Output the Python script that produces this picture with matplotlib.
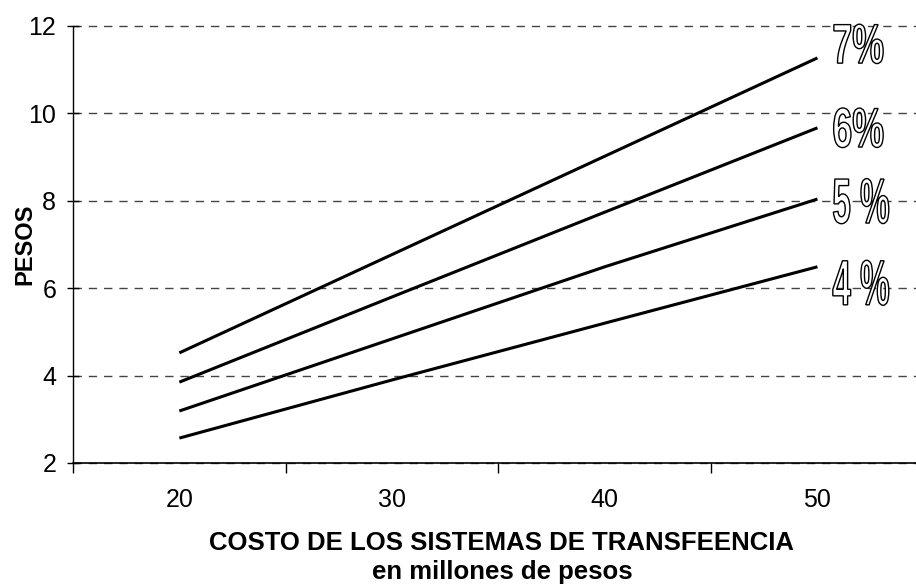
#!/usr/bin/env python3
# -*- coding: utf-8 -*-
"""
Costo de los sistemas de transferencia vs pesos, para tasas de 4 a 7 %
"""

import matplotlib
matplotlib.use("Agg")
import matplotlib.pyplot as plt
from matplotlib.textpath import TextPath
from matplotlib.font_manager import FontProperties
from matplotlib.patches import PathPatch
from matplotlib.transforms import Affine2D, IdentityTransform

#------- datos -------
costos = ["20", "30", "40", "50"]   # millones de pesos (eje categorico)

pesos_7 = [4.52, 6.77, 9.02, 11.27]
pesos_6 = [3.85, 5.80, 7.74, 9.67]
pesos_5 = [3.19, 4.84, 6.49, 8.04]
pesos_4 = [2.57, 3.90, 5.20, 6.49]

etiquetas = ["7%", "6%", "5 %", "4 %"]
base_etiquetas = [11.15, 9.23, 7.49, 5.62]   # linea base de cada etiqueta
yticks = [2, 4, 6, 8, 10, 12]
#----------------------------------------

plt.rcParams['font.family'] = ['Liberation Sans', 'DejaVu Sans']

fig = plt.figure(figsize=(9.16, 5.84), dpi=100)
ax = fig.add_axes([73/916, (584-463)/584, 843/916, (463-26)/584])

x = list(range(len(costos)))
for serie in [pesos_7, pesos_6, pesos_5, pesos_4]:
    ax.plot(x, serie, color="black", lw=2.2, solid_capstyle="butt", zorder=3)

# Limites
ax.set_xlim(-0.5, -0.5 + 843/212.7)
ax.set_ylim(2, 12)

# Etiquetas huecas y estrechas (contorno negro, relleno blanco)
prop = FontProperties(family="Liberation Sans", weight="bold")
for i, (txt, yb) in enumerate(zip(etiquetas, base_etiquetas)):
    if i < 2:
        size, sx = 56, 0.64
    else:
        size, sx = 64, 0.52
    px, py = ax.transData.transform((3.07, yb))
    tp = TextPath((0, 0), txt, size=size, prop=prop)
    trans = Affine2D().scale(sx, 1.0).translate(px, py) + IdentityTransform()
    patch = PathPatch(tp, facecolor="white", edgecolor="black", lw=1.0,
                      transform=trans, zorder=4, clip_on=False)
    fig.add_artist(patch)

# Ticks x : marcas entre categorias, etiquetas centradas
ax.set_xticks([-0.5, 0.5, 1.5, 2.5])
ax.set_xticklabels([])
ax.set_xticks(x, minor=True)
ax.set_xticklabels(costos, minor=True, fontsize=18)
ax.tick_params(axis="x", which="major", direction="out", length=7, width=1)
ax.tick_params(axis="x", which="minor", length=0, pad=18)

ax.set_yticks(yticks)
ax.set_yticklabels([str(v) for v in yticks], fontsize=18)
ax.tick_params(axis="y", direction="inout", length=8, width=1, pad=8)

# Rejilla discontinua
ax.yaxis.grid(True, linestyle=(0, (6, 5)), color="#444444", lw=1)
for l in ax.get_ygridlines():
    l.set_clip_on(False)
ax.set_axisbelow(True)

ax.spines["top"].set_visible(False)
ax.spines["right"].set_visible(False)
ax.spines["left"].set_linewidth(1)
ax.spines["bottom"].set_linewidth(1.2)

# Titulos de ejes
ax.set_ylabel("PESOS", fontsize=17, fontweight="bold")
ax.yaxis.set_label_coords(-0.0436, 0.5)

fig.text(0.548, 1 - 543/584, "COSTO DE LOS SISTEMAS DE TRANSFEENCIA",
         fontsize=18.5, fontweight="bold", ha="center", va="center")
fig.text(0.548, 1 - 572/584, "en millones de pesos",
         fontsize=18.5, fontweight="bold", ha="center", va="center")

plt.savefig("out.png", dpi=100)
